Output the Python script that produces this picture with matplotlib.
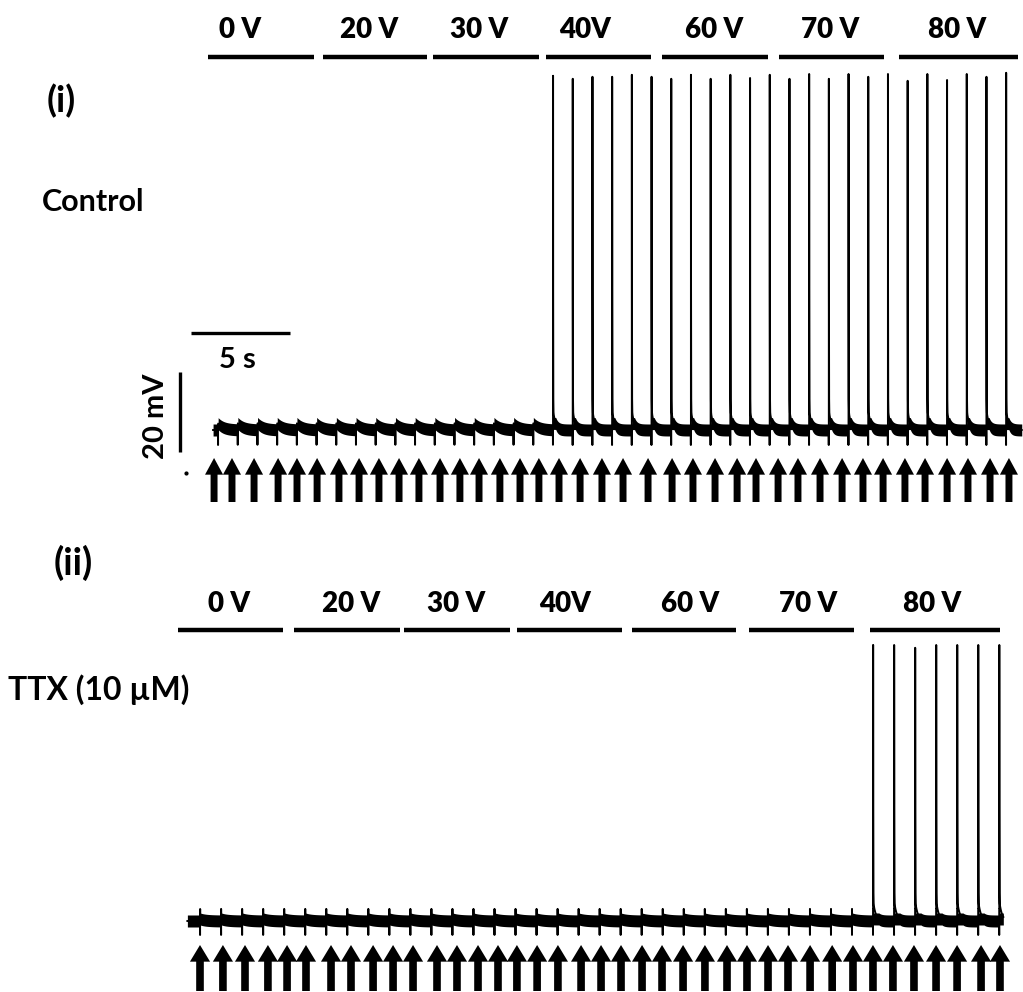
import numpy as np
import matplotlib
matplotlib.use("Agg")
import matplotlib.pyplot as plt

plt.rcParams["font.family"] = ["Lato", "DejaVu Sans"]
plt.rcParams["font.weight"] = "bold"

# --- data ---
# stimulus times (s); peak of evoked AP above rest (mV), 0 = no spike
ctrl_stim = [0, 1, 2, 3, 4, 5, 6, 7, 8, 9, 10, 11, 12, 13, 14, 15, 16, 17, 18, 19,
             20, 21, 22, 23, 24, 25, 26, 27, 28, 29, 30, 31, 32, 33, 34, 35, 36, 37, 38, 39, 40]
ctrl_peak = [0, 0, 0, 0, 0, 0, 0, 0, 0, 0, 0, 0, 0, 0, 0, 0, 0,
             88.5, 87.8, 88.3, 88.3, 88.8, 88.3, 87.8, 88.8, 87.8, 88.8, 88.0, 88.8,
             87.8, 89.0, 87.8, 89.0, 88.3, 89.0, 87.3, 89.0, 87.5, 89.0, 88.3, 89.3]
ctrl_arrows = [-0.20, 0.71, 1.83, 3.05, 4.01, 5.03, 6.14, 7.16, 8.17, 9.19, 10.20, 11.27,
               12.28, 13.25, 14.31, 15.33, 16.29, 17.31, 18.38, 19.49, 20.56, 21.83, 23.05,
               24.11, 25.23, 26.35, 27.31, 28.43, 29.44, 30.56, 31.68, 32.74, 33.76, 34.87,
               35.89, 37.01, 38.07, 39.19, 40.15]

ttx_stim = [0, 1, 2, 3, 4, 5, 6, 7, 8, 9, 10, 11, 12, 13, 14, 15, 16, 17, 18, 19,
            20, 21, 22, 23, 24, 25, 26, 27, 28, 29, 30, 31, 32, 33, 34, 35, 36, 37, 38]
ttx_peak = [0, 0, 0, 0, 0, 0, 0, 0, 0, 0, 0, 0, 0, 0, 0, 0, 0, 0, 0, 0,
            0, 0, 0, 0, 0, 0, 0, 0, 0, 0, 0, 0,
            69.0, 69.0, 68.3, 69.0, 69.0, 69.0, 69.0]
ttx_arrows = [0.0, 1.09, 2.14, 3.23, 4.14, 5.04, 6.23, 7.18, 8.23, 9.18, 10.13, 11.27,
              12.22, 13.22, 14.17, 15.07, 16.03, 17.02, 18.12, 19.07, 20.02, 21.02, 21.97,
              22.97, 24.01, 25.06, 26.01, 27.01, 27.96, 29.01, 30.06, 31.05, 32.0, 32.95,
              33.95, 35.0, 36.0, 37.14, 38.04]

volt_labels = ["0 V", "20 V", "30 V", "40V", "60 V", "70 V", "80 V"]
ctrl_bar_on = [-0.51, 5.33, 10.91, 16.65, 22.54, 28.48, 34.57]
ctrl_bar_off = [4.87, 10.61, 16.29, 21.98, 27.92, 33.81, 40.61]
ctrl_lab_t = [1.12, 7.66, 13.25, 18.63, 25.18, 31.07, 37.51]
ttx_bar_on = [-1.05, 4.47, 9.70, 15.07, 20.54, 26.10, 31.86]
ttx_bar_off = [3.95, 9.51, 14.74, 20.07, 25.49, 31.10, 38.04]
ttx_lab_t = [1.38, 7.18, 12.17, 17.36, 23.30, 28.91, 34.81]


def build_trace(stim, peak, t_start, t_end, hook, down_tick, up_tick):
    # slow part -> drawn as a thick band; fast part (artefacts, spikes) -> thin line
    t = np.arange(t_start, t_end, 0.001)
    slow = np.zeros_like(t)
    fast = np.zeros_like(t)
    for s, a in zip(stim, peak):
        d = t - s
        fast[(d >= 0) & (d < 0.004)] -= down_tick
        fast[(d >= 0.004) & (d < 0.008)] += up_tick
        m = d >= 0.008
        if a > 0:
            tail = 5.0 * np.exp(-(d[m] - 0.008) / 0.12)
            fast[m] += (a - 5.0) * np.exp(-(d[m] - 0.008) / 0.004) + tail - np.minimum(tail, hook)
            slow[m] += np.minimum(tail, hook)
        else:
            slow[m] += hook * np.exp(-(d[m] - 0.008) / 0.3)
    return t, slow, slow + fast


def draw_panel(ax, stim, peak, t_range, hook, down_tick, up_tick, band,
               arrows, arr_tip, arr_tail, bar_on, bar_off, bar_y, lab_t, lab_y, head):
    t, slow, v = build_trace(stim, peak, t_range[0], t_range[1], hook, down_tick, up_tick)
    ax.fill_between(t, slow - band, slow + band, color="black", lw=0)
    ax.plot(t, v, color="black", lw=1.4)
    for x in arrows:
        ax.annotate("", xy=(x, arr_tip), xytext=(x, arr_tail),
                    arrowprops=dict(arrowstyle=head, fc="black", ec="none",
                                    shrinkA=0, shrinkB=0, mutation_scale=10),
                    annotation_clip=False)
    for on, off in zip(bar_on, bar_off):
        ax.plot([on, off], [bar_y, bar_y], color="black", lw=3.2, solid_capstyle="butt")
    for x, lab in zip(lab_t, volt_labels):
        ax.text(x, lab_y, lab, ha="center", va="center", fontsize=20, fontweight="heavy")
    ax.axis("off")


fig = plt.figure(figsize=(10.23, 9.92), dpi=100)

# panel (i): 19.7 px per s, 4 px per mV, rest at y=430 px
ax1 = fig.add_axes([0, 1 - 520 / 992, 1, 520 / 992])
ax1.set_xlim(-218 / 19.7, (1023 - 218) / 19.7)
ax1.set_ylim(-22.5, 107.5)
draw_panel(ax1, ctrl_stim, ctrl_peak, (-0.25, 40.8), 1.6, 3.75, 0.8, 1.5,
           ctrl_arrows, -7.0, -18.0, ctrl_bar_on, ctrl_bar_off, 93.25, ctrl_lab_t, 100.0,
           "simple,head_length=1.2,head_width=1.3,tail_width=0.5")

# scale bars
ax1.plot([-1.37, 3.63], [24.25, 24.25], color="black", lw=2.4, solid_capstyle="butt")
ax1.text(0.96, 17.5, "5 s", ha="center", va="center", fontsize=21)
ax1.plot([-1.93, -1.93], [-5.5, 14.5], color="black", lw=2.4, solid_capstyle="butt")
ax1.text(-3.15, 3.5, "20 mV", ha="center", va="center", rotation=90, fontsize=21)
ax1.plot([-1.62], [-10.75], marker="o", ms=2, color="black")

# panel (ii): 21.03 px per s, rest at y=921 px
ax2 = fig.add_axes([0, 0, 1, 472 / 992])
ax2.set_xlim(-200 / 21.03, (1023 - 200) / 21.03)
ax2.set_ylim(-17.75, 100.25)
draw_panel(ax2, ttx_stim, ttx_peak, (-0.6, 38.2), 0.5, 3.5, 3.0, 1.5,
           ttx_arrows, -6.0, -17.5, ttx_bar_on, ttx_bar_off, 72.75, ttx_lab_t, 79.25,
           "simple,head_length=1.2,head_width=1.45,tail_width=0.55")

fig.text(61 / 1023, 1 - 101 / 992, "(i)", ha="center", va="center", fontsize=26)
fig.text(93 / 1023, 1 - 202 / 992, "Control", ha="center", va="center", fontsize=22)
fig.text(73 / 1023, 1 - 563 / 992, "(ii)", ha="center", va="center", fontsize=27)
fig.text(99 / 1023, 1 - 690 / 992, "TTX (10 µM)", ha="center", va="center", fontsize=23)

fig.savefig("out.png", dpi=100)
